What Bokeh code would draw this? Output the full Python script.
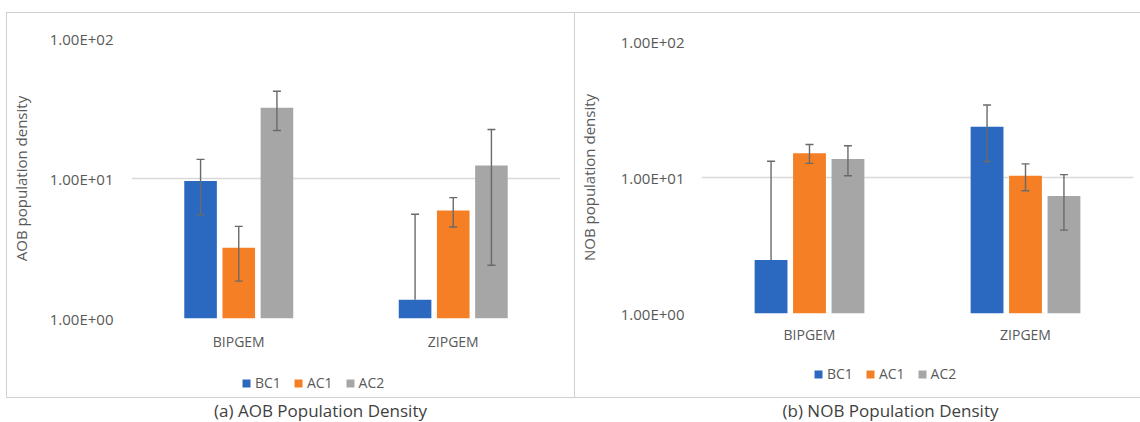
from bokeh.plotting import figure
from bokeh.models import ColumnDataSource, Range1d, FixedTicker, Label
from bokeh.transform import dodge
from bokeh.layouts import row, column
from bokeh.embed import file_html
from bokeh.resources import INLINE

categories = ["BIPGEM", "ZIPGEM"]
series = ["BC1", "AC1", "AC2"]

# (a) AOB population density
aob_bc1 = [9.6, 1.36]
aob_ac1 = [3.2, 5.9]
aob_ac2 = [32.0, 12.4]
aob_bc1_err = [4.1, 4.2]
aob_ac1_err = [1.35, 1.4]
aob_ac2_err = [10.0, 10.0]

# (b) NOB population density
nob_bc1 = [2.47, 23.6]
nob_ac1 = [15.1, 10.3]
nob_ac2 = [13.7, 7.3]
nob_bc1_err = [10.7, 10.5]
nob_ac1_err = [2.4, 2.3]
nob_ac2_err = [3.4, 3.2]

y_ticks = [1, 10, 100]
y_tick_labels = ["1.00E+00", "1.00E+01", "1.00E+02"]
y_titles = ["AOB population density", "NOB population density"]
captions = ["(a) AOB Population Density", "(b) NOB Population Density"]

colors = ["#2B68BF", "#F47F24", "#A6A6A6"]
offsets = [-0.178, 0.0, 0.178]
FONT = "Open Sans"
TXT = "#595959"
ERR = "#6A6A6A"


def chart(title, vals, errs, width, height, g):
    p = figure(x_range=categories, y_range=Range1d(1, 100), y_axis_type="log",
               width=width, height=height, toolbar_location=None, output_backend="svg",
               min_border_left=g["left"], min_border_right=g["right"],
               min_border_top=g["top"], min_border_bottom=g["bottom"])
    p.outline_line_color = None
    p.background_fill_color = "white"
    p.border_fill_color = "white"
    for i, s in enumerate(series):
        v = vals[i]
        e = errs[i]
        upper = [a + b for a, b in zip(v, e)]
        lower = [a - b if a - b > 0 else a for a, b in zip(v, e)]
        src = ColumnDataSource(dict(cat=categories, top=v, upper=upper, lower=lower))
        xd = dodge("cat", offsets[i], range=p.x_range)
        p.vbar(x=xd, top="top", bottom=1, width=0.152, source=src,
               fill_color=colors[i], line_color=None)
        p.segment(x0=xd, y0="lower", x1=xd, y1="upper", source=src,
                  line_color=ERR, line_width=1.4)
        p.scatter(x=xd, y="upper", source=src, marker="dash", size=8,
                  line_color=ERR, line_width=1.4)
        lc = [c for c, a, b in zip(categories, v, e) if a - b > 0]
        ll = [a - b for a, b in zip(v, e) if a - b > 0]
        lsrc = ColumnDataSource(dict(cat=lc, lower=ll))
        p.scatter(x=dodge("cat", offsets[i], range=p.x_range), y="lower", source=lsrc,
                  marker="dash", size=8, line_color=ERR, line_width=1.4)

    p.xgrid.visible = False
    p.ygrid.ticker = FixedTicker(ticks=y_ticks)
    p.ygrid.grid_line_color = "#D9D9D9"
    p.ygrid.grid_line_width = 1.3
    p.ygrid.minor_grid_line_color = None

    p.yaxis.ticker = FixedTicker(ticks=y_ticks, minor_ticks=[])
    p.yaxis.major_label_overrides = dict(zip(y_ticks, y_tick_labels))
    p.yaxis.axis_label = title
    p.yaxis.axis_label_text_font = FONT
    p.yaxis.axis_label_text_font_size = "15px"
    p.yaxis.axis_label_text_font_style = "normal"
    p.yaxis.axis_label_text_color = TXT
    p.yaxis.axis_label_standoff = g["title_standoff"]
    p.yaxis.major_label_standoff = g["ylab_standoff"]

    for ax in (p.xaxis[0], p.yaxis[0]):
        ax.axis_line_color = None
        ax.major_tick_line_color = None
        ax.minor_tick_line_color = None
        ax.major_tick_out = 0
        ax.major_tick_in = 0
        ax.minor_tick_out = 0
        ax.major_label_text_font = FONT
        ax.major_label_text_color = TXT
    p.xaxis.major_label_text_font_size = "14px"
    p.yaxis.major_label_text_font_size = "15px"
    p.xaxis.major_label_standoff = g["xlab_standoff"]
    return p


def legend_strip(width, height, vals, lx, ly):
    # legend-only strip: its bars have zero width and height and lie outside its y range
    q = figure(width=width, height=height, toolbar_location=None, output_backend="svg",
               x_range=categories, y_range=Range1d(1000, 1001),
               x_axis_location=None, y_axis_location=None, min_border=0)
    q.outline_line_color = None
    q.grid.visible = False
    for i, s in enumerate(series):
        q.vbar(x=categories, top=vals[i], bottom=vals[i], width=0,
               fill_color=colors[i], line_color=None, legend_label=s)
    lg = q.legend[0]
    lg.orientation = "horizontal"
    lg.location = (lx, ly)
    lg.border_line_color = None
    lg.background_fill_alpha = 0
    lg.padding = 0
    lg.margin = 0
    lg.spacing = 12
    lg.glyph_width = 10
    lg.glyph_height = 10
    lg.label_standoff = 4
    lg.label_height = 14
    lg.label_text_font = FONT
    lg.label_text_font_size = "14px"
    lg.label_text_color = TXT
    return q


border_a = {"border": "1px solid #D0D0D0"}
border_b = {"border-top": "1px solid #D0D0D0", "border-bottom": "1px solid #D0D0D0"}

aob_vals = [aob_bc1, aob_ac1, aob_ac2]
nob_vals = [nob_bc1, nob_ac1, nob_ac2]

fa = chart(y_titles[0], aob_vals, [aob_bc1_err, aob_ac1_err, aob_ac2_err],
           567, 345,
           dict(left=120, right=14, top=25, bottom=40, title_standoff=16,
                ylab_standoff=18, xlab_standoff=13))
la = legend_strip(567, 39, aob_vals, 110, 5)
fb = chart(y_titles[1], nob_vals, [nob_bc1_err, nob_ac1_err, nob_ac2_err],
           565, 345,
           dict(left=125, right=7, top=28, bottom=45, title_standoff=19,
                ylab_standoff=17, xlab_standoff=11))
lb = legend_strip(565, 39, nob_vals, 112, 14)

panel_a = column(fa, la, styles=border_a, margin=(12, 0, 0, 6))
panel_b = column(fb, lb, styles=border_b, margin=(12, 0, 0, 0))

cap = figure(width=1140, height=24, toolbar_location=None, output_backend="svg",
             x_range=Range1d(0, 1), y_range=Range1d(0, 1),
             x_axis_location=None, y_axis_location=None, min_border=0)
cap.outline_line_color = None
cap.grid.visible = False
for txt, cx in zip(captions, [320, 890]):
    cap.add_layout(Label(x=cx, y=12, x_units="screen", y_units="screen", text=txt,
                         text_align="center", text_baseline="middle",
                         text_font=FONT, text_font_size="17px",
                         text_color="#3F3F3F"))

layout = column(row(panel_a, panel_b), cap)
open("out.html", "w").write(file_html(layout, INLINE))
